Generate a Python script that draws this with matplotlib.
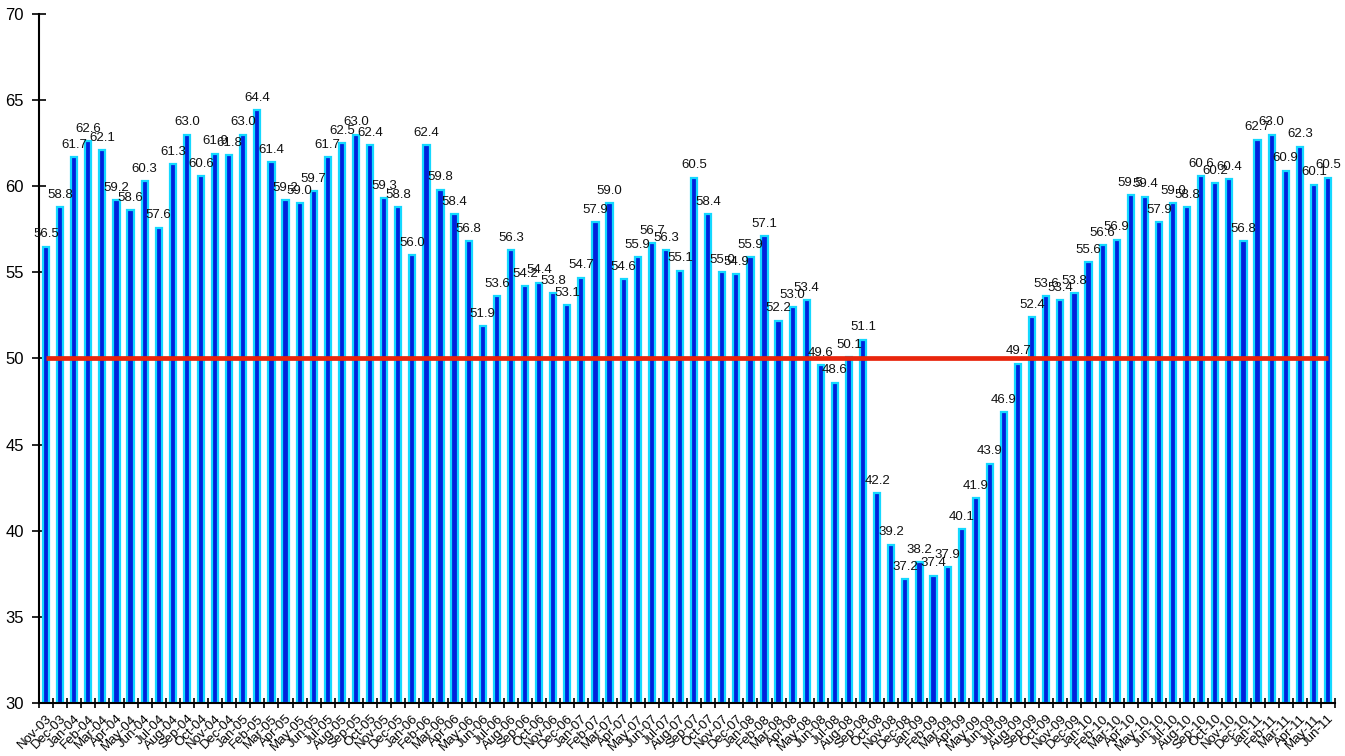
import matplotlib
matplotlib.use("Agg")
import matplotlib.pyplot as plt
import numpy as np

plt.rcParams['font.family'] = ['Liberation Sans', 'DejaVu Sans']

months = ["Nov-03", "Dec-03",
          "Jan-04", "Feb-04", "Mar-04", "Apr-04", "May-04", "Jun-04", "Jul-04", "Aug-04", "Sep-04", "Oct-04", "Nov-04", "Dec-04",
          "Jan-05", "Feb-05", "Mar-05", "Apr-05", "May-05", "Jun-05", "Jul-05", "Aug-05", "Sep-05", "Oct-05", "Nov-05", "Dec-05",
          "Jan-06", "Feb-06", "Mar-06", "Apr-06", "May-06", "Jun-06", "Jul-06", "Aug-06", "Sep-06", "Oct-06", "Nov-06", "Dec-06",
          "Jan-07", "Feb-07", "Mar-07", "Apr-07", "May-07", "Jun-07", "Jul-07", "Aug-07", "Sep-07", "Oct-07", "Nov-07", "Dec-07",
          "Jan-08", "Feb-08", "Mar-08", "Apr-08", "May-08", "Jun-08", "Jul-08", "Aug-08", "Sep-08", "Oct-08", "Nov-08", "Dec-08",
          "Jan-09", "Feb-09", "Mar-09", "Apr-09", "May-09", "Jun-09", "Jul-09", "Aug-09", "Sep-09", "Oct-09", "Nov-09", "Dec-09",
          "Jan-10", "Feb-10", "Mar-10", "Apr-10", "May-10", "Jun-10", "Jul-10", "Aug-10", "Sep-10", "Oct-10", "Nov-10", "Dec-10",
          "Jan-11", "Feb-11", "Mar-11", "Apr-11", "May-11", "Jun-11"]

values = [56.5, 58.8,
          61.7, 62.6, 62.1, 59.2, 58.6, 60.3, 57.6, 61.3, 63.0, 60.6, 61.9, 61.8,
          63.0, 64.4, 61.4, 59.2, 59.0, 59.7, 61.7, 62.5, 63.0, 62.4, 59.3, 58.8,
          56.0, 62.4, 59.8, 58.4, 56.8, 51.9, 53.6, 56.3, 54.2, 54.4, 53.8, 53.1,
          54.7, 57.9, 59.0, 54.6, 55.9, 56.7, 56.3, 55.1, 60.5, 58.4, 55.0, 54.9,
          55.9, 57.1, 52.2, 53.0, 53.4, 49.6, 48.6, 50.1, 51.1, 42.2, 39.2, 37.2,
          38.2, 37.4, 37.9, 40.1, 41.9, 43.9, 46.9, 49.7, 52.4, 53.6, 53.4, 53.8,
          55.6, 56.6, 56.9, 59.5, 59.4, 57.9, 59.0, 58.8, 60.6, 60.2, 60.4, 56.8,
          62.7, 63.0, 60.9, 62.3, 60.1, 60.5]

threshold = 50
y_ticks = [30, 35, 40, 45, 50, 55, 60, 65, 70]

fig = plt.figure(figsize=(13.45, 7.56), dpi=100)
ax = fig.add_axes([0.029, 0.0701, 0.9636, 0.9114])

x = np.arange(len(values))
bottom = 30
ax.bar(x, np.array(values) - bottom, bottom=bottom, width=0.44,
       color='#0022dd', edgecolor='#14d8ff', linewidth=1.6, zorder=2)

for xi, v in zip(x, values):
    ax.annotate(f"{v:.1f}", (xi, v), xytext=(0, 4.5), textcoords='offset points',
                ha='center', va='bottom', fontsize=9.5, color='#111111', zorder=4)

ax.plot([x[0], x[-1]], [threshold, threshold], color='#e8250c', lw=3.4,
        solid_capstyle='butt', zorder=3)

ax.set_xlim(-0.5, len(values) - 0.5)
ax.set_ylim(30, 70)
ax.set_yticks(y_ticks)
ax.set_yticklabels([str(t) for t in y_ticks], fontsize=12)
ax.tick_params(axis='y', direction='inout', length=10, width=1.2, pad=6)

ax.set_xticks(x)
ax.set_xticklabels(months, rotation=45, ha='right', rotation_mode='anchor',
                   fontsize=9.5)
ax.tick_params(axis='x', which='major', length=0, pad=7)
ax.set_xticks(np.arange(len(values) + 1) - 0.5, minor=True)
ax.tick_params(axis='x', which='minor', direction='inout', length=7, width=1.2)

for s in ['top', 'right']:
    ax.spines[s].set_visible(False)
for s in ['left', 'bottom']:
    ax.spines[s].set_linewidth(1.5)
    ax.spines[s].set_color('black')

fig.savefig('out.png', dpi=100)
